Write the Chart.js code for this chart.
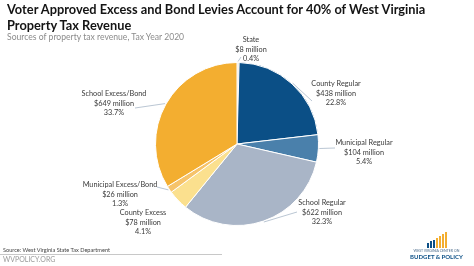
<!DOCTYPE html>
<html>
<head>
<meta charset="utf-8">
<script src="https://cdn.jsdelivr.net/npm/chart.js@4"></script>
<style>
  html, body { margin: 0; padding: 0; background: #fff; }
  body { width: 474px; height: 266px; position: relative; overflow: hidden; font-family: Lato, "Open Sans", sans-serif; }
  #wrap { position: absolute; left: 0; top: 0; width: 474px; height: 266px; }
  .title { position: absolute; left: 7px; top: 2px; font-size: 12.8px; font-weight: bold; line-height: 15.5px; color: #141414; white-space: nowrap; }
  .sub { position: absolute; left: 7px; top: 32px; font-size: 8.6px; color: #8c8c8c; white-space: nowrap; }
  .src { position: absolute; left: 3px; top: 246px; font-size: 5.6px; color: #444; white-space: nowrap; }
  .rule { position: absolute; left: 0; top: 254px; width: 222px; height: 1px; background: #c8c8c8; }
  .site { position: absolute; left: 3px; top: 255px; font-size: 7px; color: #9a9a9a; white-space: nowrap; }
  .logo { position: absolute; left: 409px; top: 231px; width: 55px; height: 30px; }
  .logo .b { position: absolute; bottom: 13px; width: 2px; }
  .logo .t1 { position: absolute; left: 0; top: 18px; width: 55px; text-align: center; font-size: 3.5px; color: #4a6a8a; white-space: nowrap; }
  .logo .t2 { position: absolute; left: 0; top: 22px; width: 55px; text-align: center; font-size: 6px; font-weight: bold; color: #0b4f86; white-space: nowrap; }
</style>
</head>
<body>
<div id="wrap"><canvas id="pie" width="474" height="266"></canvas></div>
<div class="title">Voter Approved Excess and Bond Levies Account for 40% of West Virginia<br>Property Tax Revenue</div>
<div class="sub">Sources of property tax revenue, Tax Year 2020</div>
<div class="src">Source: West Virginia State Tax Department</div>
<div class="rule"></div>
<div class="site">WVPOLICY.ORG</div>
<div class="logo">
  <div class="b" style="left:18px;height:5px;background:#0b4f86"></div>
  <div class="b" style="left:21px;height:7px;background:#0b4f86"></div>
  <div class="b" style="left:24px;height:8px;background:#0b4f86"></div>
  <div class="b" style="left:27px;height:10px;background:#f3ae30"></div>
  <div class="b" style="left:30px;height:12px;background:#f3ae30"></div>
  <div class="b" style="left:33px;height:14px;background:#f3ae30"></div>
  <div class="b" style="left:36px;height:16px;background:#f3ae30"></div>
  <div class="t1">WEST VIRGINIA CENTER ON</div>
  <div class="t2">BUDGET &amp; POLICY</div>
</div>
<script>
var categories = ['State', 'County Regular', 'Municipal Regular', 'School Regular', 'County Excess', 'Municipal Excess/Bond', 'School Excess/Bond'];
var millions = [8, 438, 104, 622, 78, 26, 649];
var percents = ['0.4%', '22.8%', '5.4%', '32.3%', '4.1%', '1.3%', '33.7%'];
var sliceColors = ['#dcd6c8', '#0b4f86', '#4a80ab', '#a9b5c7', '#fbe08e', '#f6c36a', '#f3ae30'];

// where each label block sits (centre x, first line y) and where its leader line ends
var labelSpots = [
  { x: 251, y: 36, lx: 241, ly: 57 },
  { x: 336, y: 80, lx: 312, ly: 101 },
  { x: 364, y: 139, lx: 335, ly: 148 },
  { x: 322, y: 199, lx: 297, ly: 212 },
  { x: 143, y: 209, lx: null, ly: null },
  { x: 120, y: 181, lx: 157, ly: 187 },
  { x: 114, y: 90, lx: 135, ly: 108 }
];

var labelPlugin = {
  id: 'sliceLabels',
  afterDatasetsDraw: function (chart) {
    var ctx = chart.ctx;
    var arcs = chart.getDatasetMeta(0).data;
    ctx.save();
    ctx.font = '7.3px Lato, "Open Sans", sans-serif';
    ctx.textAlign = 'center';
    ctx.textBaseline = 'top';
    for (var i = 0; i < arcs.length; i++) {
      var a = arcs[i];
      var spot = labelSpots[i];
      var mid = (a.startAngle + a.endAngle) / 2;
      if (spot.lx !== null) {
        ctx.strokeStyle = '#a8b8c8';
        ctx.lineWidth = 0.8;
        ctx.beginPath();
        ctx.moveTo(a.x + Math.cos(mid) * (a.outerRadius + 1), a.y + Math.sin(mid) * (a.outerRadius + 1));
        ctx.lineTo(spot.lx, spot.ly);
        ctx.stroke();
      }
      ctx.fillStyle = '#3a3a3a';
      ctx.fillText(categories[i], spot.x, spot.y);
      ctx.fillText('$' + millions[i] + ' million', spot.x, spot.y + 9.5);
      ctx.fillText(percents[i], spot.x, spot.y + 19);
    }
    ctx.restore();
  }
};

new Chart(document.getElementById('pie'), {
  type: 'pie',
  data: {
    labels: categories,
    datasets: [{
      data: millions,
      backgroundColor: sliceColors,
      borderColor: '#ffffff',
      borderWidth: 1
    }]
  },
  options: {
    responsive: false,
    animation: false,
    layout: { padding: { top: 62, bottom: 40, left: 0, right: 0 } },
    plugins: {
      legend: { display: false },
      tooltip: { enabled: false }
    }
  },
  plugins: [labelPlugin]
});
</script>
</body>
</html>
